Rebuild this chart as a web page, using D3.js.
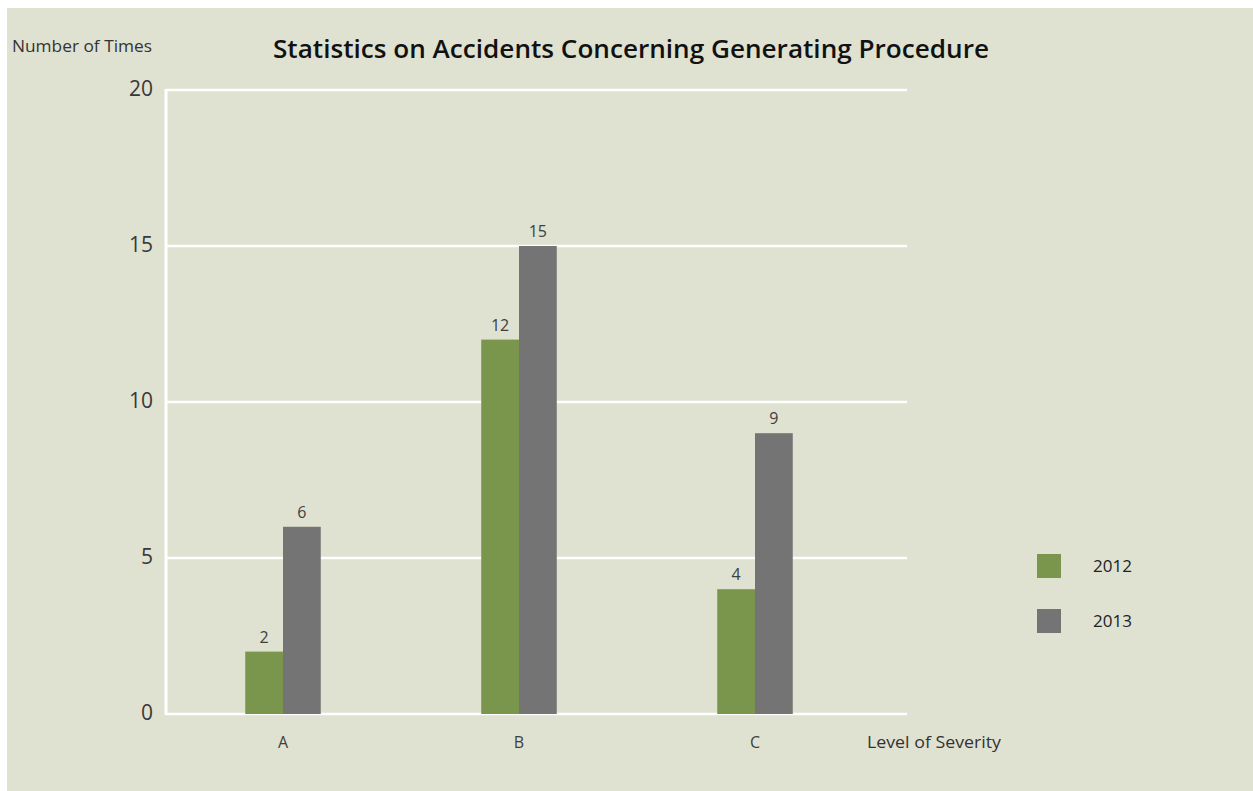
<!DOCTYPE html>
<html>
<head>
<meta charset="utf-8">
<script src="https://cdn.jsdelivr.net/npm/d3@7"></script>
<style>
  html, body { margin: 0; padding: 0; background: #ffffff; }
  svg { display: block; }
  text { font-family: "Open Sans", "Noto Sans", sans-serif; }
</style>
</head>
<body>
<script>
// Accident counts by level of severity
const categories = ["A", "B", "C"];
const years = ["2012", "2013"];
const values2012 = [2, 12, 4];
const values2013 = [6, 15, 9];
const yTicks = [0, 5, 10, 15, 20];

const seriesValues = [values2012, values2013];
const colors = ["#7a964c", "#747474"];

const W = 1253, H = 791;
const svg = d3.select("body").append("svg").attr("width", W).attr("height", H);

// Panel background
svg.append("rect").attr("x", 7).attr("y", 8).attr("width", W - 7).attr("height", H - 8)
  .attr("fill", "#dfe1d1");

const y = d3.scaleLinear().domain([0, 20]).range([714, 90]);
const x = d3.scaleBand().domain(categories).range([165, 873]).paddingInner(0.68).paddingOuter(0.34);
const xs = d3.scaleBand().domain(years).range([0, x.bandwidth()]);

const gridLeft = 166, gridRight = 907;

// Horizontal gridlines
svg.append("g").selectAll("line").data(yTicks).join("line")
  .attr("x1", gridLeft).attr("x2", gridRight)
  .attr("y1", d => y(d)).attr("y2", d => y(d))
  .attr("stroke", "#ffffff").attr("stroke-width", 2.5);

// Vertical axis line
svg.append("line").attr("x1", gridLeft).attr("x2", gridLeft)
  .attr("y1", y(20) - 1).attr("y2", y(0) + 1)
  .attr("stroke", "#ffffff").attr("stroke-width", 3);

// Y tick labels
svg.append("g").selectAll("text").data(yTicks).join("text")
  .attr("x", 153).attr("y", d => y(d) - 1).attr("dy", "0.35em")
  .attr("text-anchor", "end").attr("font-size", 21).attr("fill", "#383838")
  .text(d => d);

// Bars
const groups = svg.append("g").selectAll("g").data(categories).join("g")
  .attr("transform", c => `translate(${x(c)},0)`);

years.forEach((yr, si) => {
  groups.append("rect")
    .attr("x", xs(yr)).attr("width", xs.bandwidth())
    .attr("y", (c, i) => y(seriesValues[si][i]))
    .attr("height", (c, i) => y(0) - y(seriesValues[si][i]))
    .attr("fill", colors[si]);
  groups.append("text")
    .attr("x", xs(yr) + xs.bandwidth() / 2)
    .attr("y", (c, i) => y(seriesValues[si][i]) - 9)
    .attr("text-anchor", "middle").attr("font-size", 16).attr("fill", "#404040")
    .text((c, i) => seriesValues[si][i]);
});

// Category labels
svg.append("g").selectAll("text").data(categories).join("text")
  .attr("x", c => x(c) + x.bandwidth() / 2).attr("y", 748)
  .attr("text-anchor", "middle").attr("font-size", 16).attr("fill", "#404040")
  .text(c => c);

// Axis titles
svg.append("text").attr("x", 12).attr("y", 52).attr("font-size", 16).attr("fill", "#333333")
  .attr("textLength", 140).attr("lengthAdjust", "spacingAndGlyphs")
  .text("Number of Times");
svg.append("text").attr("x", 867).attr("y", 748).attr("font-size", 16).attr("fill", "#333333")
  .attr("textLength", 134).attr("lengthAdjust", "spacingAndGlyphs")
  .text("Level of Severity");

// Chart title
svg.append("text").attr("x", 273).attr("y", 58)
  .attr("font-size", 25).attr("font-weight", 600).attr("fill", "#111111")
  .attr("textLength", 716).attr("lengthAdjust", "spacingAndGlyphs")
  .text("Statistics on Accidents Concerning Generating Procedure");

// Legend
const legend = svg.append("g").selectAll("g").data(years).join("g")
  .attr("transform", (d, i) => `translate(1037,${554 + i * 55})`);
legend.append("rect").attr("width", 24).attr("height", 24).attr("fill", (d, i) => colors[i]);
legend.append("text").attr("x", 56).attr("y", 12).attr("dy", "0.35em")
  .attr("font-size", 17).attr("fill", "#222222").text(d => d);
</script>
</body>
</html>
